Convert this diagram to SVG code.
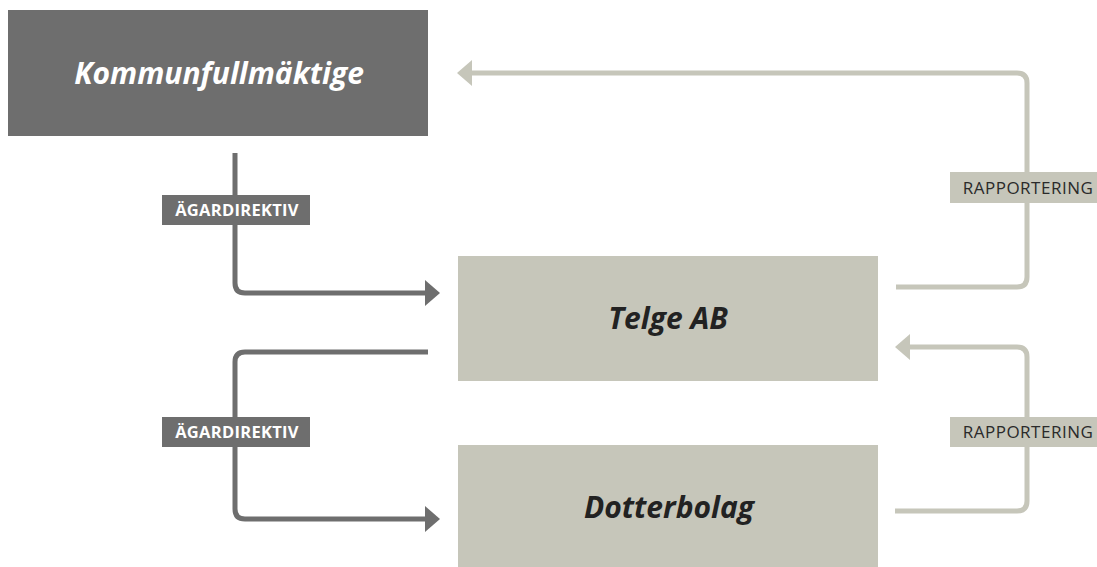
<svg xmlns="http://www.w3.org/2000/svg" width="1097" height="567" viewBox="0 0 1097 567">
<defs>
<style>
.title{font-family:"Open Sans","Noto Sans","Liberation Sans",sans-serif;font-weight:700;font-style:italic;font-size:30px;text-anchor:middle}
.lbl{font-family:"Open Sans","Noto Sans","Liberation Sans",sans-serif;font-weight:700;font-size:16.5px;letter-spacing:0.3px;text-anchor:middle}
.lbl2{font-family:"Open Sans","Noto Sans","Liberation Sans",sans-serif;font-weight:500;font-size:17px;letter-spacing:0.5px;text-anchor:middle}
.dark{stroke:#6e6e6e;stroke-width:5;fill:none}
.light{stroke:#c6c6ba;stroke-width:5;fill:none}
</style>
<marker id="ad" viewBox="0 0 15 26" refX="1" refY="13" markerWidth="15" markerHeight="26" markerUnits="userSpaceOnUse" orient="auto"><path d="M0,0 L15,13 L0,26 z" fill="#6e6e6e"/></marker>
<marker id="al" viewBox="0 0 15 26" refX="1" refY="13" markerWidth="15" markerHeight="26" markerUnits="userSpaceOnUse" orient="auto"><path d="M0,0 L15,13 L0,26 z" fill="#c6c6ba"/></marker>
</defs>
<rect width="1097" height="567" fill="#ffffff"/>
<g id="connectors">
<path class="dark" d="M235,153 V283 Q235,293 245,293 H426" marker-end="url(#ad)"/>
<path class="dark" d="M428,352 H245 Q235,352 235,362 V509 Q235,519 245,519 H426" marker-end="url(#ad)"/>
<path class="light" d="M896,287 H1017 Q1027,287 1027,277 V83 Q1027,73 1017,73 H471" marker-end="url(#al)"/>
<path class="light" d="M895,511 H1017 Q1027,511 1027,501 V357 Q1027,347 1017,347 H909" marker-end="url(#al)"/>
<g id="label-agardirektiv-1"><rect x="162" y="195" width="148" height="30" fill="#6e6e6e"/><text class="lbl" x="237" y="216" fill="#ffffff">ÄGARDIREKTIV</text></g>
<g id="label-agardirektiv-2"><rect x="162" y="417" width="148" height="30" fill="#6e6e6e"/><text class="lbl" x="237" y="438" fill="#ffffff">ÄGARDIREKTIV</text></g>
<g id="label-rapportering-1"><rect x="950" y="172" width="147" height="31" fill="#c6c6ba"/><text class="lbl2" x="1028" y="193.5" fill="#2a2a2a">RAPPORTERING</text></g>
<g id="label-rapportering-2"><rect x="950" y="417" width="147" height="30" fill="#c6c6ba"/><text class="lbl2" x="1028" y="438" fill="#2a2a2a">RAPPORTERING</text></g>
</g>
<g id="kommunfullmaktige"><rect x="8" y="10" width="420" height="126" fill="#6e6e6e"/><text class="title" x="219" y="84" fill="#ffffff">Kommunfullmäktige</text></g>
<g id="telge-ab"><rect x="458" y="256" width="420" height="125" fill="#c6c6ba"/><text class="title" x="668" y="329" fill="#222222">Telge AB</text></g>
<g id="dotterbolag"><rect x="458" y="445" width="420" height="122" fill="#c6c6ba"/><text class="title" x="669" y="518" fill="#222222">Dotterbolag</text></g>
</svg>
